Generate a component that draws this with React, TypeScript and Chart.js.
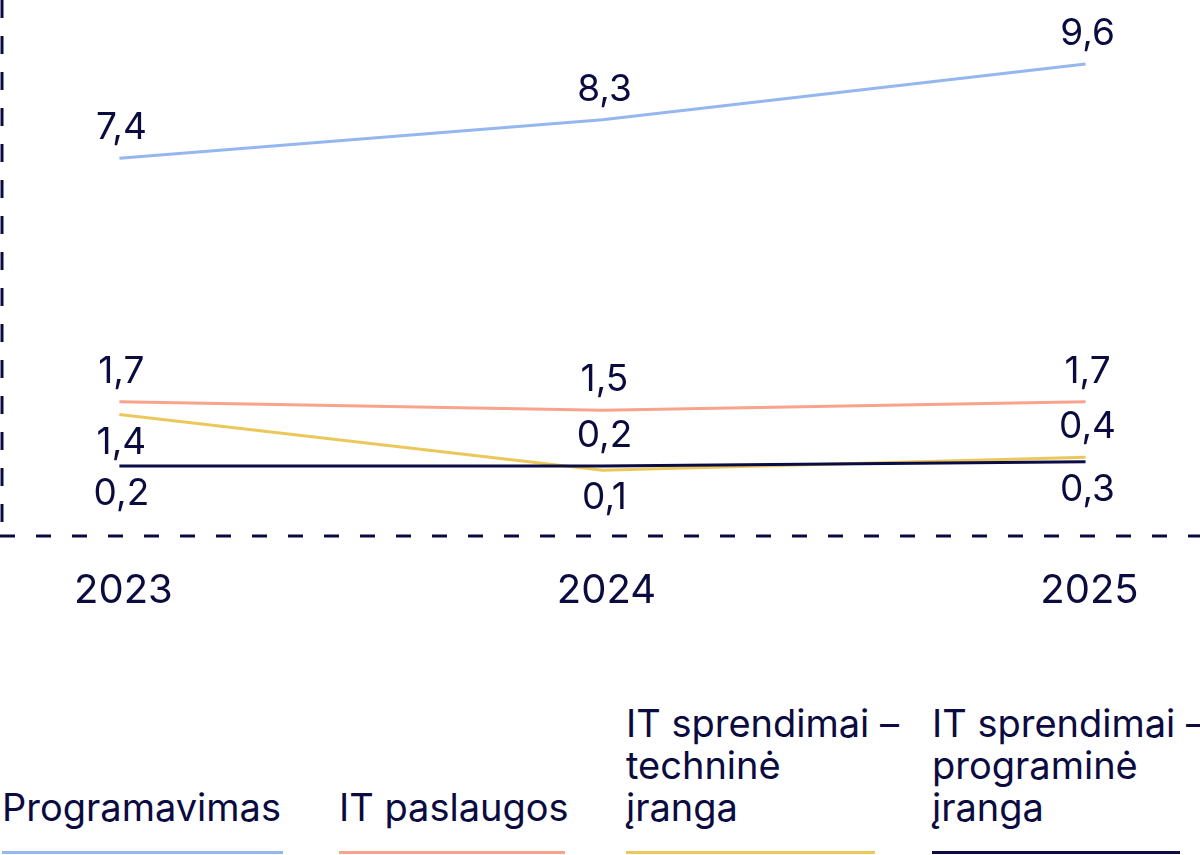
import Chart from 'chart.js/auto';
import { useEffect, useRef } from 'react';

const years = ['2023', '2024', '2025'];
const programavimas = [7.4, 8.3, 9.6];
const itPaslaugos = [1.7, 1.5, 1.7];
const technineIranga = [1.4, 0.1, 0.4];
const programineIranga = [0.2, 0.2, 0.3];

const seriesNames = [
  'Programavimas',
  'IT paslaugos',
  'IT sprendimai –\ntechninė\nįranga',
  'IT sprendimai –\nprograminė\nįranga',
];

// where each value label sits relative to its point
const labelSide = [
  ['up', 'up', 'up'],
  ['up', 'up', 'up'],
  ['down', 'down', 'up'],
  ['down', 'up', 'down'],
];

const colors = ['#94b7ef', '#f8a38c', '#ecc85b', '#0b0b45'];
const navy = '#0b0b40';
const FONT = 'Inter, "Noto Sans", sans-serif';

const legendBox = [
  { left: 2, width: 281 },
  { left: 339, width: 226 },
  { left: 626, width: 249 },
  { left: 932, width: 248 },
];

// chart.js border.dash only affects grid lines, so the dashed axes are drawn here
const dashedAxes = {
  id: 'dashedAxes',
  beforeDatasetsDraw(chart: any) {
    const { ctx, chartArea: a } = chart;
    ctx.save();
    ctx.strokeStyle = navy;
    ctx.lineWidth = 3;
    ctx.setLineDash([18, 18]);
    ctx.beginPath();
    ctx.moveTo(a.left, a.top);
    ctx.lineTo(a.left, a.bottom);
    ctx.stroke();
    ctx.setLineDash([15, 21]);
    ctx.beginPath();
    ctx.moveTo(0, a.bottom);
    ctx.lineTo(chart.width, a.bottom);
    ctx.stroke();
    ctx.restore();
  },
};

const valueLabels = {
  id: 'valueLabels',
  afterDatasetsDraw(chart: any) {
    const ctx = chart.ctx;
    ctx.save();
    ctx.font = `37px ${FONT}`;
    ctx.fillStyle = navy;
    ctx.textAlign = 'center';
    ctx.textBaseline = 'middle';
    chart.data.datasets.forEach((ds: any, di: number) => {
      const meta = chart.getDatasetMeta(di);
      meta.data.forEach((pt: any, i: number) => {
        const v = ds.data[i].y;
        const dy = labelSide[di][i] === 'up' ? -30 : 28;
        ctx.fillText(v.toFixed(1).replace('.', ','), pt.x + 2, pt.y + dy);
      });
    });
    ctx.restore();
  },
};

export default function App() {
  const canvasRef = useRef<HTMLCanvasElement>(null);

  useEffect(() => {
    document.body.style.margin = '0';
    if (!canvasRef.current) return;

    const all = [programavimas, itPaslaugos, technineIranga, programineIranga];

    const chart = new Chart(canvasRef.current, {
      type: 'line',
      data: {
        datasets: all.map((vals, si) => ({
          label: seriesNames[si].replace(/\n/g, ' '),
          data: vals.map((v, i) => ({ x: i, y: v })),
          borderColor: colors[si],
          backgroundColor: colors[si],
          borderWidth: 3,
          pointRadius: 0,
          tension: 0,
          order: 3 - si,
        })),
      },
      options: {
        animation: false,
        responsive: true,
        maintainAspectRatio: false,
        layout: { padding: { left: 2, right: 0, top: 0, bottom: 0 } },
        plugins: {
          legend: { display: false },
          tooltip: { enabled: false },
        },
        scales: {
          x: {
            type: 'linear',
            min: -0.243,
            max: 2.237,
            grid: { display: false },
            border: { display: false },
            afterBuildTicks: (axis: any) => {
              axis.ticks = years.map((_, i) => ({ value: i }));
            },
            ticks: {
              padding: 23,
              labelOffset: 4,
              color: navy,
              font: { family: FONT, size: 40 },
              maxRotation: 0,
              autoSkip: false,
              callback: (v: any) => years[v] ?? '',
            },
          },
          y: {
            min: -1.44,
            max: 11.1,
            grid: { display: false, drawTicks: false },
            ticks: { display: false },
            border: { display: false },
          },
        },
      },
      plugins: [dashedAxes, valueLabels],
    });

    return () => chart.destroy();
  }, []);

  return (
    <div style={{ position: 'relative', width: 1200, height: 855, overflow: 'hidden', fontFamily: FONT }}>
      <div style={{ position: 'absolute', left: 0, top: 0, width: 1200, height: 638 }}>
        <canvas ref={canvasRef}></canvas>
      </div>
      {seriesNames.map((name, i) => (
        <div
          key={name}
          style={{
            position: 'absolute',
            left: legendBox[i].left,
            width: legendBox[i].width,
            bottom: 1.5,
            display: 'flex',
            flexDirection: 'column',
          }}
        >
          <div
            style={{
              whiteSpace: 'pre',
              fontSize: 38,
              lineHeight: '42px',
              color: navy,
              marginBottom: 23,
            }}
          >
            {name}
          </div>
          <div style={{ height: 3, background: colors[i] }}></div>
        </div>
      ))}
    </div>
  );
}
